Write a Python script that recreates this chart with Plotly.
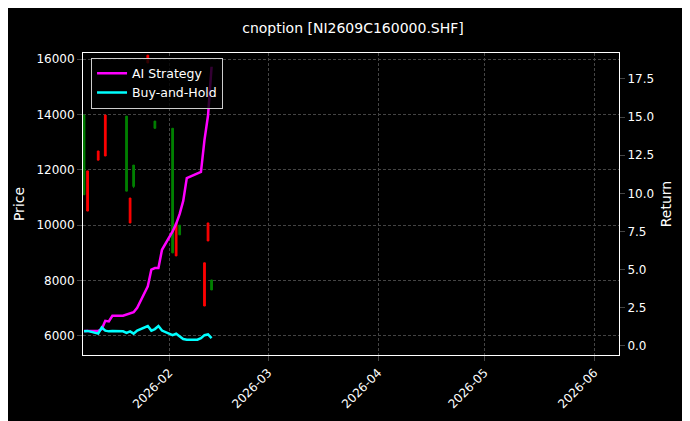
import plotly.graph_objects as go

# candles
candle_dates = ["2026-01-08", "2026-01-09", "2026-01-12", "2026-01-14", "2026-01-20", "2026-01-21",
                "2026-01-22", "2026-01-26", "2026-01-28", "2026-02-02", "2026-02-03", "2026-02-04",
                "2026-02-11", "2026-02-12", "2026-02-13"]
opens = [11100, 11960, 12680, 13980, 11230, 10980, 11400, 16140, 13500, 9000, 10080, 9650, 8640, 10080, 7660]
highs = [13980, 11960, 12680, 13980, 13940, 10980, 12170, 16140, 13760, 13500, 10080, 10000, 8640, 10080, 8020]
lows = [11090, 10510, 12350, 12500, 11230, 10080, 11340, 15860, 13500, 8990, 8890, 9650, 7080, 9430, 7660]
closes = [13980, 10510, 12350, 12500, 13940, 10080, 12170, 15860, 13760, 13500, 8890, 10000, 7080, 9430, 8020]

# daily returns
line_dates = ["2026-01-08", "2026-01-09", "2026-01-12", "2026-01-13", "2026-01-14", "2026-01-15",
              "2026-01-16", "2026-01-19", "2026-01-20", "2026-01-21", "2026-01-22", "2026-01-23",
              "2026-01-26", "2026-01-27", "2026-01-28", "2026-01-29", "2026-01-30", "2026-02-02",
              "2026-02-03", "2026-02-04", "2026-02-05", "2026-02-06", "2026-02-09", "2026-02-10",
              "2026-02-11", "2026-02-12", "2026-02-13"]
ai_strategy = [0.98, 0.98, 0.98, 1.1, 1.64, 1.6, 1.97, 1.97, 2.05, 2.16, 2.2, 2.5, 3.9, 5.0, 5.1,
               5.1, 6.3, 7.5, 8.0, 8.65, 9.5, 11.0, 11.3, 11.4, 13.5, 15.1, 18.3]
buy_hold = [0.95, 0.98, 0.8, 1.2, 1.0, 0.95, 0.97, 0.95, 0.85, 0.95, 0.8, 1.0, 1.3, 1.0, 1.1,
            1.3, 1.0, 0.7, 0.8, 0.65, 0.45, 0.4, 0.4, 0.5, 0.7, 0.75, 0.5]

fig = go.Figure()
fig.add_trace(go.Candlestick(x=candle_dates, open=opens, high=highs, low=lows, close=closes,
                             increasing=dict(line=dict(color="green", width=1), fillcolor="green"),
                             decreasing=dict(line=dict(color="red", width=1), fillcolor="red"),
                             whiskerwidth=0, showlegend=False))
fig.add_trace(go.Scatter(x=line_dates, y=ai_strategy, name="AI Strategy", yaxis="y2",
                         mode="lines", line=dict(color="#ff00ff", width=2.5)))
fig.add_trace(go.Scatter(x=line_dates, y=buy_hold, name="Buy-and-Hold", yaxis="y2",
                         mode="lines", line=dict(color="#00ffff", width=2.5)))

grid = dict(showgrid=True, gridcolor="#444", griddash="3px,2px", gridwidth=0.6)
fig.update_layout(
    width=690, height=421, paper_bgcolor="black", plot_bgcolor="black",
    font=dict(family="DejaVu Sans", color="white", size=12),
    title=dict(text="cnoption [NI2609C160000.SHF]", x=0.5, y=0.965, xanchor="center", font=dict(size=14)),
    margin=dict(l=75, r=79, t=45, b=74),
    xaxis=dict(range=["2026-01-07 17:00", "2026-06-08"], rangeslider=dict(visible=False), automargin=False,
               tickformat="%Y-%m", dtick="M1", tick0="2026-02-01", tickangle=-45,
               showline=True, linecolor="white", mirror=True, ticks="outside", **grid),
    yaxis=dict(title=dict(text="Price", standoff=8), range=[5310, 16220], automargin=False,
               tickvals=[6000, 8000, 10000, 12000, 14000, 16000], tickformat="d",
               showline=True, linecolor="white", ticks="outside", zeroline=False, **grid),
    yaxis2=dict(title=dict(text="Return", standoff=8), overlaying="y", side="right", range=[-0.6, 19.2],
                automargin=False, tickvals=[0, 2.5, 5, 7.5, 10, 12.5, 15, 17.5],
                ticktext=["0.0", "2.5", "5.0", "7.5", "10.0", "12.5", "15.0", "17.5"],
                showline=True, linecolor="white", ticks="outside", zeroline=False, showgrid=False),
    legend=dict(x=0.015, y=0.985, xanchor="left", yanchor="top", bgcolor="rgba(0,0,0,0.8)",
                bordercolor="#ccc", borderwidth=1, font=dict(size=12.5)),
)
fig.write_html("out.html")
